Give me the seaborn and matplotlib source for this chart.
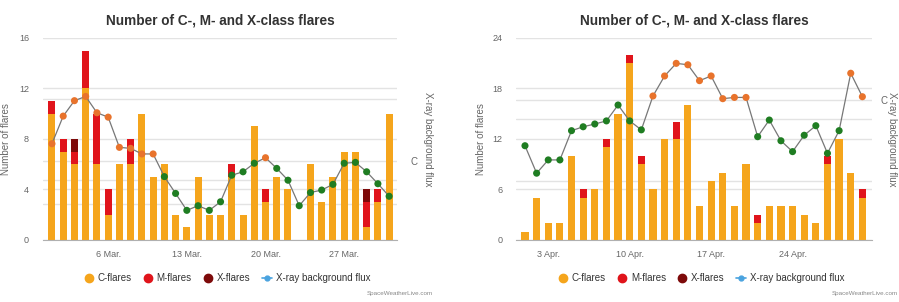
import numpy as np
import pandas as pd
import matplotlib
matplotlib.use('Agg')
import matplotlib.pyplot as plt
import matplotlib.transforms as mtransforms
from matplotlib.lines import Line2D
import seaborn as sns

# March: daily flare counts per class
mar_days = list(range(1, 32))
mar_c = [10, 7, 6, 12, 6, 2, 6, 6, 10, 5, 6, 2, 1, 5, 2, 2, 5, 2, 9, 3,
         5, 4, 0, 6, 3, 5, 7, 7, 1, 3, 10]
mar_m = [1, 1, 1, 3, 4, 2, 0, 2, 0, 0, 0, 0, 0, 0, 0, 0, 1, 0, 0, 1,
         0, 0, 0, 0, 0, 0, 0, 0, 2, 1, 0]
mar_x = [0, 0, 1, 0, 0, 0, 0, 0, 0, 0, 0, 0, 0, 0, 0, 0, 0, 0, 0, 0,
         0, 0, 0, 0, 0, 0, 0, 0, 1, 0, 0]
# X-ray background flux (W/m2)
mar_flux = [1.9e-6, 5.3e-6, 9.4e-6, 1.1e-5, 6.0e-6, 5.1e-6, 1.66e-6, 1.6e-6,
            1.3e-6, 1.3e-6, 5.6e-7, 3.0e-7, 1.6e-7, 1.9e-7, 1.6e-7, 2.2e-7,
            5.9e-7, 6.7e-7, 9.2e-7, 1.13e-6, 7.6e-7, 4.9e-7, 1.9e-7, 3.1e-7,
            3.4e-7, 4.2e-7, 9.2e-7, 9.5e-7, 6.7e-7, 4.3e-7, 2.7e-7]
mar_ticks = [6, 13, 20, 27]
mar_labels = ['6 Mar.', '13 Mar.', '20 Mar.', '27 Mar.']

# April
apr_days = list(range(1, 31))
apr_c = [1, 5, 2, 2, 10, 5, 6, 11, 15, 21, 9, 6, 12, 12, 16, 4, 7, 8, 4, 9,
         2, 4, 4, 4, 3, 2, 9, 12, 8, 5]
apr_m = [0, 0, 0, 0, 0, 1, 0, 1, 0, 1, 1, 0, 0, 2, 0, 0, 0, 0, 0, 0,
         1, 0, 0, 0, 0, 0, 1, 0, 0, 1]
apr_x = [0] * 30
apr_flux = [1.83e-7, 6.6e-8, 1.08e-7, 1.08e-7, 3.2e-7, 3.7e-7, 4.1e-7, 4.6e-7,
            8.3e-7, 4.6e-7, 3.3e-7, 1.16e-6, 2.44e-6, 3.9e-6, 3.7e-6, 2.05e-6,
            2.44e-6, 1.05e-6, 1.1e-6, 1.1e-6, 2.56e-7, 4.75e-7, 2.2e-7, 1.47e-7,
            2.7e-7, 3.85e-7, 1.38e-7, 3.2e-7, 2.7e-6, 1.13e-6]
apr_ticks = [3, 10, 17, 24]
apr_labels = ['3 Apr.', '10 Apr.', '17 Apr.', '24 Apr.']

C_COL = '#f5a51c'
M_COL = '#e0141b'
X_COL = '#7d0a0a'
HI_COL = '#e8732c'
LO_COL = '#1f7d22'
GRID = '#e3e3e3'
TXT = '#666666'

sns.set_style('white')
plt.rcParams['font.family'] = ['Liberation Sans', 'DejaVu Sans']


def draw_panel(fig, rect, days, c, m, x, flux, ticks, labels,
               ymax, xlim, flux_lim, flux_grid, c_pad, ylab_x, y2lab_x):
    ax = fig.add_axes(rect)
    df = pd.DataFrame({'day': days, 'c': c, 'm': m, 'x': x, 'flux': flux})
    df['cm'] = df['c'] + df['m']
    df['total'] = df['cm'] + df['x']

    # stacked bars: draw totals first, then overlay lower parts
    for col, colr in [('total', X_COL), ('cm', M_COL), ('c', C_COL)]:
        sns.barplot(data=df, x='day', y=col, native_scale=True, color=colr,
                    width=0.62, errorbar=None, ax=ax, zorder=2, linewidth=0,
                    saturation=1)

    ax.set_xlim(*xlim)
    ax.set_ylim(0, ymax)
    ax.set_yticks(np.linspace(0, ymax, 5))
    ax.set_yticklabels([str(int(v)) for v in np.linspace(0, ymax, 5)])
    ax.set_xticks(ticks)
    ax.set_xticklabels(labels)
    ax.grid(axis='y', color=GRID, lw=1, zorder=0)
    ax.set_axisbelow(True)
    for s in ['top', 'right', 'left']:
        ax.spines[s].set_visible(False)
    ax.spines['bottom'].set_color('#b0b0b0')
    ax.tick_params(axis='x', length=4, color='#b0b0b0', labelsize=6.5,
                   labelcolor=TXT, pad=3)
    ax.tick_params(axis='y', length=0, labelsize=6.5, labelcolor=TXT, pad=10)
    ax.set_xlabel('')
    ax.set_ylabel('Number of flares', fontsize=7, color=TXT)
    ax.yaxis.set_label_coords(ylab_x, 0.5)
    ax.set_title('Number of C-, M- and X-class flares', fontsize=9.8,
                 fontweight='bold', color='#333333', pad=10)

    ax2 = ax.twinx()
    ax2.set_yscale('log')
    ax2.set_ylim(*flux_lim)
    sns.lineplot(x=days, y=flux, ax=ax2, color='#777777', lw=0.9, zorder=3)
    cls = ['hi' if f >= 1e-6 else 'lo' for f in flux]
    sns.scatterplot(x=days, y=flux, hue=cls, palette={'hi': HI_COL, 'lo': LO_COL},
                    ax=ax2, s=26, linewidth=0, legend=False, zorder=4)
    ax2.set_xlim(*xlim)
    ax2.set_yticks([1e-6])
    ax2.set_yticklabels(['C'])
    ax2.yaxis.set_minor_locator(matplotlib.ticker.NullLocator())
    ax2.tick_params(axis='y', length=0, labelsize=7, labelcolor=TXT, pad=c_pad)
    ax2.grid(False)
    for s in ax2.spines.values():
        s.set_visible(False)
    ax2.set_ylabel('X-ray background flux', fontsize=7, color=TXT,
                   rotation=270, va='center')
    ax2.yaxis.set_label_coords(y2lab_x, 0.5)

    # secondary grid lines kept behind the bars
    tr = mtransforms.blended_transform_factory(ax.transAxes, ax2.transData)
    for v in flux_grid:
        ax.plot([0, 1], [v, v], transform=tr, color=GRID, lw=1, zorder=0)

    handles = [
        Line2D([], [], marker='o', ls='', color=C_COL, markersize=6),
        Line2D([], [], marker='o', ls='', color=M_COL, markersize=6),
        Line2D([], [], marker='o', ls='', color=X_COL, markersize=6),
        Line2D([], [], marker='o', color='#4aa3df', markersize=3.5, lw=1.2),
    ]
    ax.legend(handles, ['C-flares', 'M-flares', 'X-flares',
                        'X-ray background flux'],
              loc='center', bbox_to_anchor=(0.52, -0.19), ncol=4,
              frameon=False, fontsize=7, handlelength=1.0, handletextpad=0.4,
              columnspacing=1.2, labelcolor='#333333')
    return ax


fig = plt.figure(figsize=(8.99, 3.02), dpi=100)

draw_panel(fig, [0.0478, 0.2053, 0.3938, 0.6689], mar_days, mar_c, mar_m,
           mar_x, mar_flux, mar_ticks, mar_labels, 16, (0.2, 31.7),
           (5.32e-8, 9.64e-5), [2e-7, 5e-7, 1e-6, 1e-5], 10, -0.09, 1.087)
draw_panel(fig, [0.574, 0.2053, 0.396, 0.6689], apr_days, apr_c, apr_m,
           apr_x, apr_flux, apr_ticks, apr_labels, 24, (0.23, 30.83),
           (5.52e-9, 1e-5), [5e-8, 5e-7, 1e-6], 6, -0.084, 1.056)

fig.text(0.482, 0.022, 'SpaceWeatherLive.com', fontsize=4.5, color='#888888',
         ha='right')
fig.text(0.925, 0.022, 'SpaceWeatherLive.com', fontsize=4.5, color='#888888',
         ha='left')

fig.savefig('out.png', dpi=100)
